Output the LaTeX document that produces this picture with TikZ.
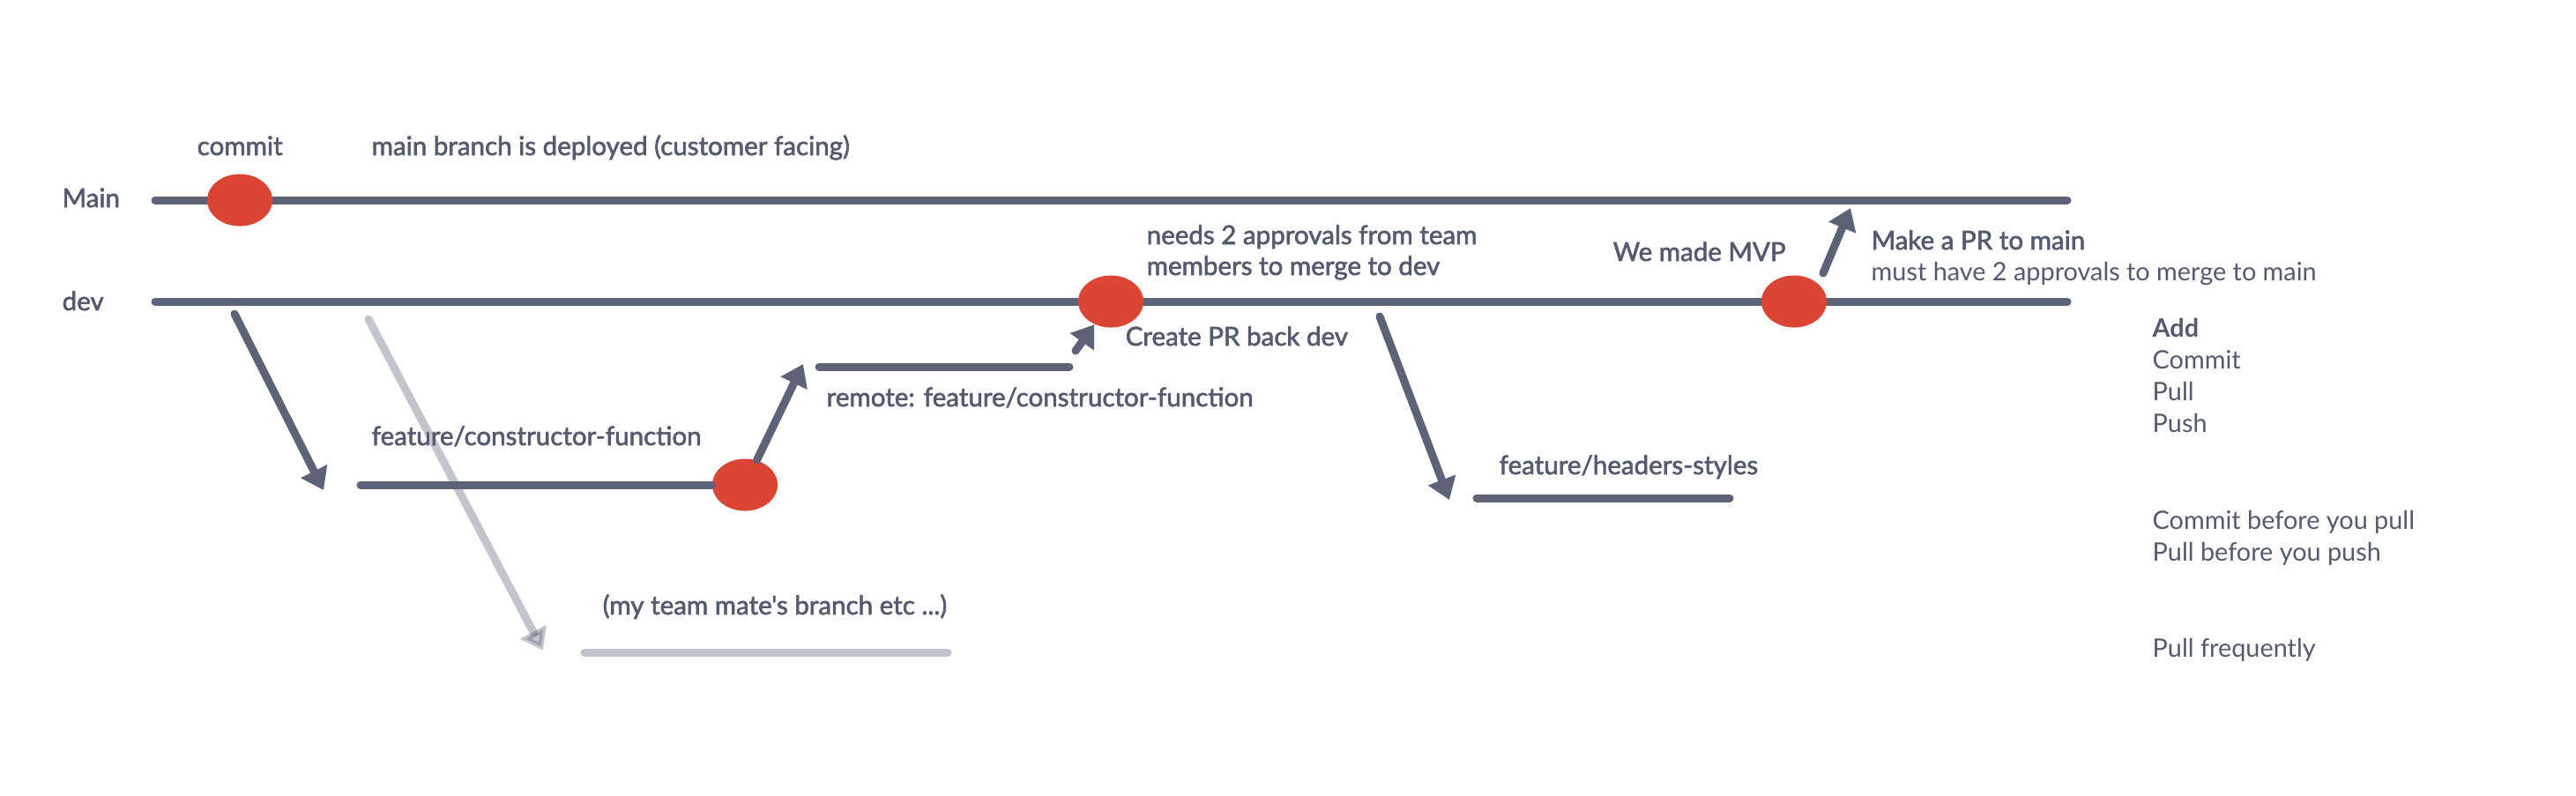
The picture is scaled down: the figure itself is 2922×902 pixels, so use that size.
\documentclass[tikz,border=0pt]{standalone}
\usepackage{fontspec}
\setmainfont{Lato}
\newfontfamily\lblfont{Lato}[FakeBold=2]
\usetikzlibrary{arrows.meta,shapes.geometric,positioning}

\definecolor{slate}{HTML}{5C6376}
\definecolor{ink}{HTML}{545B6E}
\definecolor{commitred}{HTML}{DB4536}

\begin{document}
\begin{tikzpicture}[
    x=0.01cm, y=-0.01cm,
    branch/.style={draw=slate, line width=0.09cm, line cap=round},
    wire/.style={branch, -{Triangle[length=0.24cm, width=0.32cm]}},
    mate/.style={branch, opacity=0.37},
    commit/.style={ellipse, fill=commitred, minimum width=0.74cm, minimum height=0.59cm, inner sep=0pt},
    caption/.style={anchor=base west, inner sep=0pt, text=ink, font=\lblfont\fontsize{8.4}{10}\selectfont},
    note/.style={caption, font=\fontsize{8.2}{10}\selectfont}
]
    \useasboundingbox[fill=white] (0,0) rectangle (2922,902);

    % Branch ends
    \coordinate (main-start) at (176,227);
    \coordinate (main-end) at (2345,227);
    \coordinate (dev-start) at (176,342);
    \coordinate (dev-end) at (2345,342);
    \coordinate (ctor-start) at (409,550);
    \coordinate (remote-start) at (929,416);
    \coordinate (remote-end) at (1213,416);
    \coordinate (hdr-start) at (1675,565);
    \coordinate (hdr-end) at (1962,565);
    \coordinate (mate-start) at (663,740);
    \coordinate (mate-end) at (1075,740);

    % Branches
    \draw [branch] (main-start) -- (main-end);
    \draw [branch] (dev-start) -- (dev-end);
    \draw [branch] (remote-start) -- (remote-end);
    \draw [branch] (hdr-start) -- (hdr-end);

    % Commits
    \node [commit] (first) at (272,227) {};
    \node [commit] (local) at (845,550) {};
    \node [commit] (pr) at (1260,342) {};
    \node [commit] (mvp) at (2035,342) {};
    \draw [branch] (ctor-start) -- (local);

    % Moves between branches
    \coordinate (ctor-fork) at (266,356);
    \coordinate (ctor-tip) at (367,556);
    \coordinate (remote-tip) at (911,413);
    \coordinate (pr-in) at (1220,398);
    \coordinate (hdr-fork) at (1565,359);
    \coordinate (hdr-tip) at (1644,567);
    \coordinate (mvp-out) at (2068,310);
    \coordinate (main-tip) at (2099,236);
    \coordinate (mate-fork) at (418,362);
    \coordinate (mate-tip) at (616,738);

    \draw [wire] (ctor-fork) -- (ctor-tip);
    \draw [wire] (local) -- (remote-tip);
    \draw [wire] (pr-in) -- (pr);
    \draw [wire] (hdr-fork) -- (hdr-tip);
    \draw [wire] (mvp-out) -- (main-tip);

    % Labels
    \node [caption] (main-lbl) at (70,235) {Main};
    \node [caption] (dev-lbl) at (70,352) {dev};
    \node [caption] (commit-lbl) at (223,176) {commit};
    \node [caption] (deploy-lbl) at (421,176) {main branch is deployed (customer facing)};
    \node [caption] (ctor-lbl) at (421,505) {feature/constructor-function};
    \node [caption] (remote-lbl) at (937,461) {remote: feature/constructor-function};
    \node [caption] (mate-lbl) at (683,697) {(my team mate's branch etc ...)};
    \node [caption] (approve-lbl) at (1300,277) {needs 2 approvals from team};
    \node [caption] (approve-lbl2) at (1300,312) {members to merge to dev};
    \node [caption] (pr-lbl) at (1276,392) {Create PR back dev};
    \node [caption] (mvp-lbl) at (1829,296) {We made MVP};
    \node [caption] (hdr-lbl) at (1700,538) {feature/headers-styles};
    \node [caption] (tomain-lbl) at (2122,283) {Make a PR to main};
    \node [note] (tomain-lbl2) at (2122,318) {must have 2 approvals to merge to main};

    % Notes
    \node [note, font=\bfseries\fontsize{8.2}{10}\selectfont] (add) at (2441,382) {Add};
    \node [note] (commit) at (2441,418) {Commit};
    \node [note] (pull) at (2441,454) {Pull};
    \node [note] (push) at (2441,490) {Push};
    \node [note] (rule1) at (2441,600) {Commit before you pull};
    \node [note] (rule2) at (2441,636) {Pull before you push};
    \node [note] (rule3) at (2441,745) {Pull frequently};

    % Team mate branch (faded, on top)
    \draw [wire, mate] (mate-fork) -- (mate-tip);
    \draw [mate] (mate-start) -- (mate-end);
\end{tikzpicture}
\end{document}
